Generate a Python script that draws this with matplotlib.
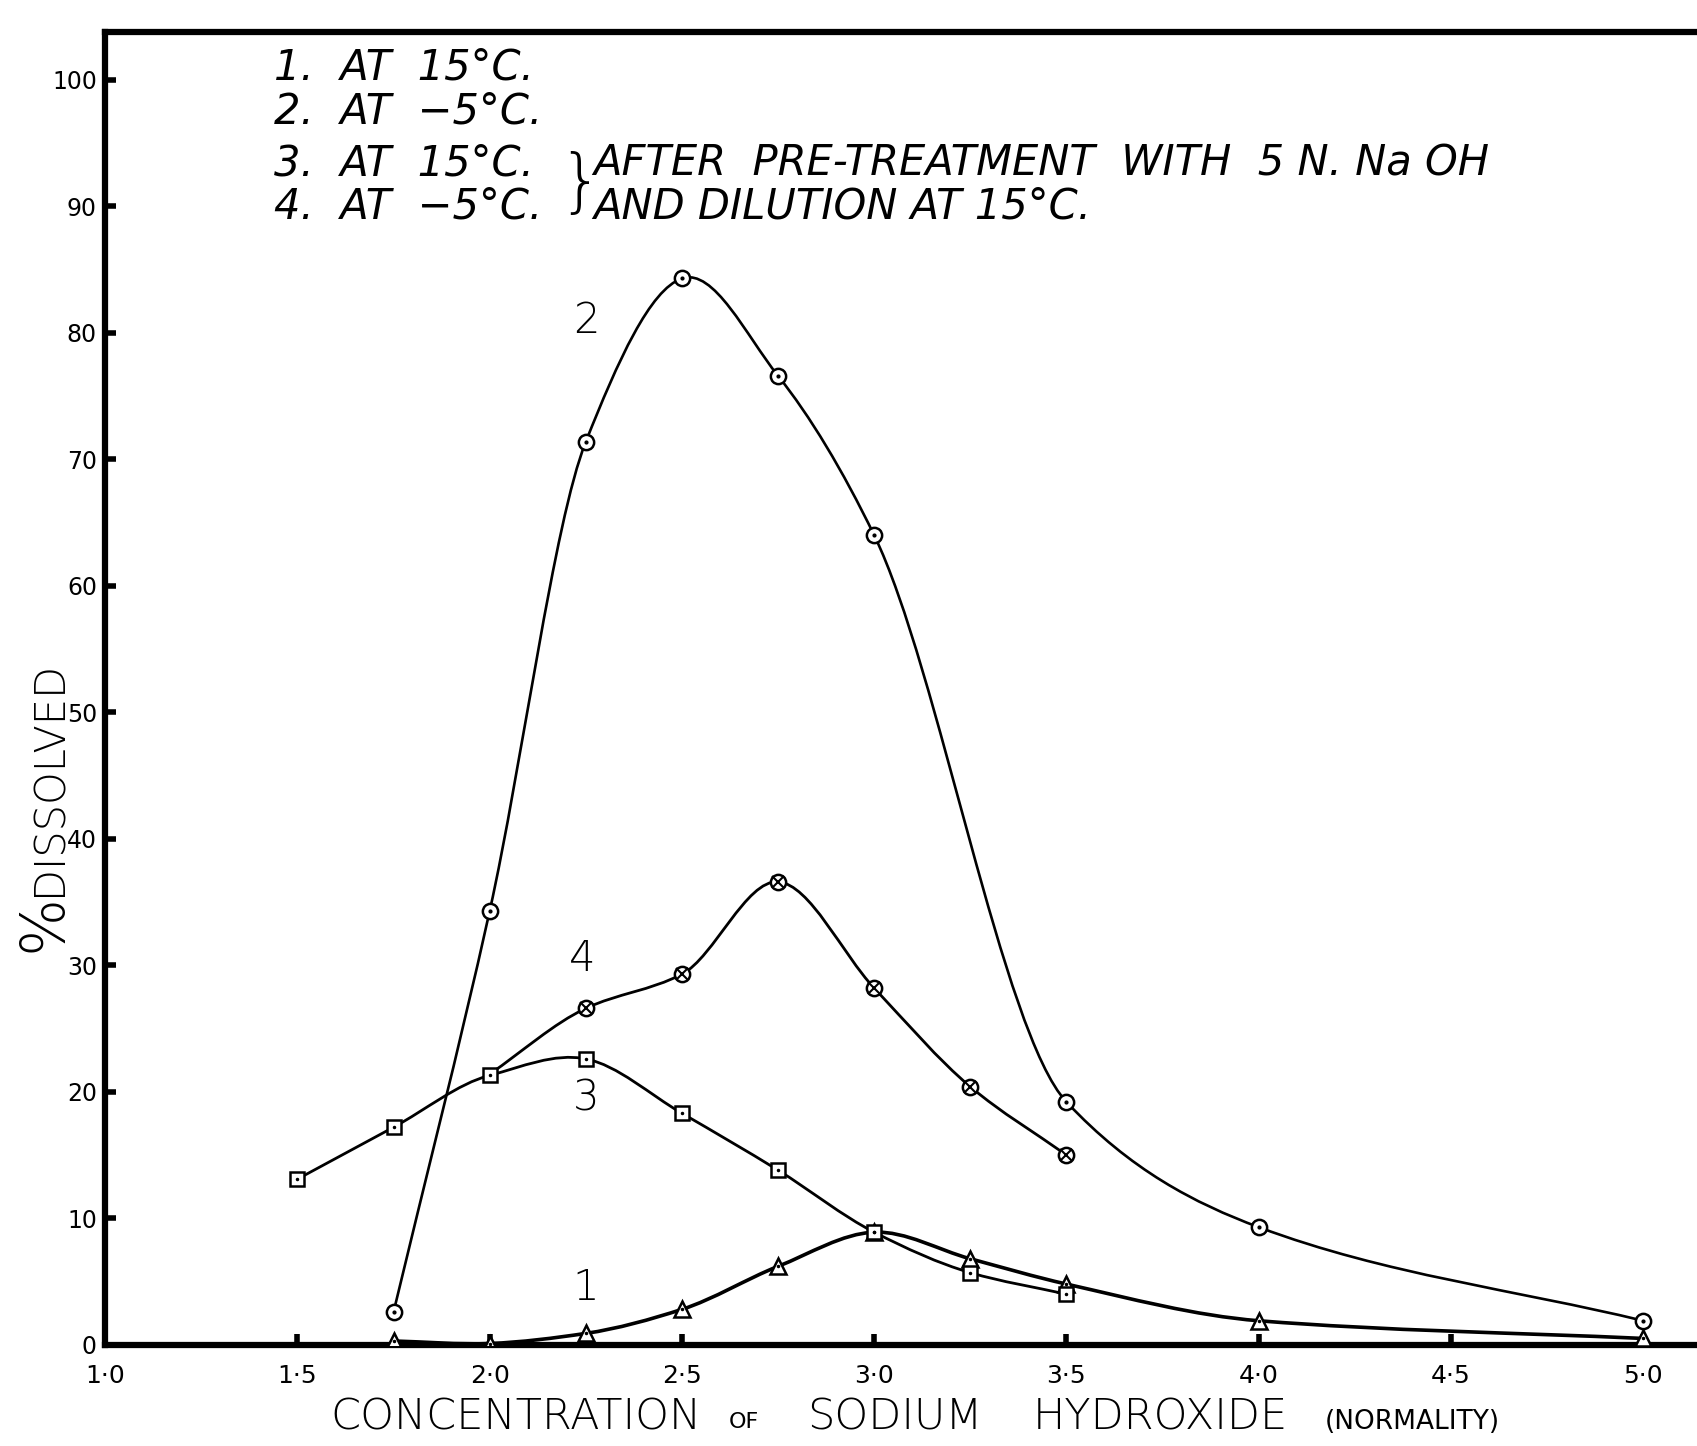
import numpy as np
import matplotlib.pyplot as plt
from matplotlib.path import Path
from matplotlib.patches import PathPatch

# curve 1 - at 15 C (triangles)
x1 = [1.75, 2.0, 2.25, 2.5, 2.75, 3.0, 3.25, 3.5, 4.0, 5.0]
y1 = [0.3, 0.1, 0.9, 2.8, 6.2, 8.9, 6.8, 4.8, 1.9, 0.5]

# curve 2 - at -5 C (dotted circles)
x2 = [1.75, 2.0, 2.25, 2.5, 2.75, 3.0, 3.5, 4.0, 5.0]
y2 = [2.6, 34.3, 71.4, 84.3, 76.6, 64.0, 19.2, 9.3, 1.9]

# curve 3 - at 15 C after pre-treatment (squares)
x3 = [1.5, 1.75, 2.0, 2.25, 2.5, 2.75, 3.0, 3.25, 3.5]
y3 = [13.1, 17.2, 21.3, 22.6, 18.3, 13.8, 8.9, 5.7, 4.0]

# curve 4 - at -5 C after pre-treatment (crossed circles), first point has no marker
x4 = [2.0, 2.25, 2.5, 2.75, 3.0, 3.25, 3.5]
y4 = [21.4, 26.6, 29.3, 36.6, 28.2, 20.4, 15.0]

xticks = [1.0, 1.5, 2.0, 2.5, 3.0, 3.5, 4.0, 4.5, 5.0]
xticklabels = ['1·0', '1·5', '2·0', '2·5', '3·0', '3·5', '4·0', '4·5', '5·0']
yticks = [0, 10, 20, 30, 40, 50, 60, 70, 80, 90, 100]

FONT = 'DejaVu Sans'


def smooth_path(xs, ys):
    # cubic hermite through the points (x as parameter), as bezier segments
    x = np.asarray(xs, float)
    y = np.asarray(ys, float)
    n = len(x)
    h = np.diff(x)
    d = np.diff(y) / h
    m = np.zeros(n)
    m[0], m[-1] = d[0], d[-1]
    for i in range(1, n - 1):
        if d[i - 1] * d[i] > 0:
            # monotone stretch: weighted harmonic mean (pchip style)
            w1 = 2 * h[i] + h[i - 1]
            w2 = h[i] + 2 * h[i - 1]
            m[i] = (w1 + w2) / (w1 / d[i - 1] + w2 / d[i])
        else:
            m[i] = (h[i] * d[i - 1] + h[i - 1] * d[i]) / (h[i - 1] + h[i])
    verts = [(x[0], y[0])]
    codes = [Path.MOVETO]
    for i in range(n - 1):
        verts += [(x[i] + h[i] / 3, y[i] + m[i] * h[i] / 3),
                  (x[i + 1] - h[i] / 3, y[i + 1] - m[i + 1] * h[i] / 3),
                  (x[i + 1], y[i + 1])]
        codes += [Path.CURVE4] * 3
    return Path(verts, codes)


def curve(ax, xs, ys, lw=2.2):
    ax.add_patch(PathPatch(smooth_path(xs, ys), fill=False, lw=lw,
                           edgecolor='black', zorder=2))


fig = plt.figure(figsize=(16.97, 14.46), dpi=100)
ax = fig.add_axes([0.062, 0.07, 0.938, 0.908])
ax.set_xlim(1.0, 5.14)
ax.set_ylim(0, 103.8)

curve(ax, x1, y1, 2.6)
curve(ax, x2, y2, 1.9)
curve(ax, x3, y3, 2.0)
curve(ax, x4, y4, 2.0)

ms = 11
# triangles
ax.plot(x1, y1, ls='none', marker='^', ms=ms, mfc='white', mec='black', mew=1.8, zorder=3)
ax.plot(x1, y1, ls='none', marker='.', ms=3, color='black', zorder=4)
# circles with dot
ax.plot(x2, y2, ls='none', marker='o', ms=ms, mfc='white', mec='black', mew=1.8, zorder=3)
ax.plot(x2, y2, ls='none', marker='.', ms=4, color='black', zorder=4)
# squares with dot
ax.plot(x3, y3, ls='none', marker='s', ms=ms - 1, mfc='white', mec='black', mew=1.8, zorder=3)
ax.plot(x3, y3, ls='none', marker='.', ms=3, color='black', zorder=4)
# crossed circles
ax.plot(x4[1:], y4[1:], ls='none', marker='o', ms=ms, mfc='white', mec='black', mew=1.8, zorder=3)
ax.plot(x4[1:], y4[1:], ls='none', marker='x', ms=ms - 3, color='black', mew=1.5, zorder=4)

# curve numbers
for lab, xx, yy in [('1', 2.25, 4.5), ('2', 2.25, 81), ('3', 2.25, 19.5), ('4', 2.24, 30.5)]:
    ax.text(xx, yy, lab, fontsize=30, fontfamily=FONT, fontweight='light',
            ha='center', va='center')

# key
key_lines = ['1.  AT  15°C.', '2.  AT  −5°C.', '3.  AT  15°C.', '4.  AT  −5°C.']
key_y = [101.0, 97.5, 93.4, 90.0]
for s, yy in zip(key_lines, key_y):
    ax.text(1.44, yy, s, fontsize=30, fontfamily=FONT, style='italic',
            fontweight='light', ha='left', va='center')
ax.text(2.235, 91.7, '}', fontsize=50, fontfamily=FONT, fontweight='light',
        ha='center', va='center')
ax.text(2.27, 93.4, 'AFTER  PRE-TREATMENT  WITH  5 N. Na OH', fontsize=30,
        fontfamily=FONT, style='italic', fontweight='light', ha='left', va='center')
ax.text(2.27, 90.0, 'AND DILUTION AT 15°C.', fontsize=30,
        fontfamily=FONT, style='italic', fontweight='light', ha='left', va='center')

# axes styling
for side in ['top', 'left', 'bottom']:
    ax.spines[side].set_linewidth(4.5)
ax.spines['right'].set_visible(False)

ax.set_xticks(xticks)
ax.set_xticklabels(xticklabels, fontsize=18, fontfamily=FONT)
ax.set_yticks(yticks)
ax.set_yticklabels([str(v) for v in yticks], fontsize=17, fontfamily=FONT)
ax.tick_params(axis='both', direction='in', length=8, width=4)
ax.tick_params(axis='x', pad=14)
ax.tick_params(axis='y', pad=6)

# y label: big % below DISSOLVED
fig.text(0.026, 0.362, '%', rotation=90, fontsize=44, fontfamily=FONT,
         fontweight='light', ha='center', va='center')
fig.text(0.029, 0.462, 'DISSOLVED', rotation=90, fontsize=30, fontfamily=FONT,
         fontweight='light', ha='center', va='center')

# x label with small "OF" and "(NORMALITY)"
xl_y = -0.055
ax.text(0.258, xl_y, 'CONCENTRATION', transform=ax.transAxes, fontsize=31,
        fontfamily=FONT, fontweight='light', ha='center', va='center')
ax.text(0.401, xl_y - 0.004, 'OF', transform=ax.transAxes, fontsize=16,
        fontfamily=FONT, ha='center', va='center')
ax.text(0.496, xl_y, 'SODIUM', transform=ax.transAxes, fontsize=31,
        fontfamily=FONT, fontweight='light', ha='center', va='center')
ax.text(0.663, xl_y, 'HYDROXIDE', transform=ax.transAxes, fontsize=31,
        fontfamily=FONT, fontweight='light', ha='center', va='center')
ax.text(0.821, xl_y - 0.004, '(NORMALITY)', transform=ax.transAxes, fontsize=19,
        fontfamily=FONT, ha='center', va='center')

fig.savefig('out.png', dpi=100, facecolor='white')
